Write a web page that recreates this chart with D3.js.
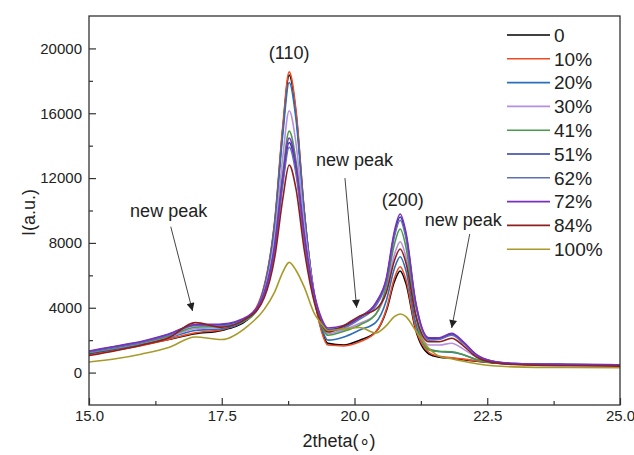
<!DOCTYPE html>
<html><head><meta charset="utf-8">
<script src="https://cdn.jsdelivr.net/npm/d3@7"></script>
<style>
body{margin:0;background:#fff}
text{font-family:"Liberation Sans",Arial,sans-serif;fill:#222}
</style>
</head><body>
<svg id="chart" width="634" height="455"></svg>
<script>
// ---------- data ----------
const twoTheta = [15, 15.5, 16, 16.5, 17, 17.5, 18, 18.3, 18.5, 18.65, 18.77, 18.9, 19.05, 19.25, 19.38, 19.5,
  19.8, 20.1, 20.4, 20.6, 20.75, 20.86, 20.97, 21.15, 21.4, 21.6, 21.83, 22.05, 22.3, 22.6, 23, 24, 25];

const seriesNames = ["0", "10%", "20%", "30%", "41%", "51%", "62%", "72%", "84%", "100%"];
const seriesColors = ["#000000", "#f04a24", "#2a6fb8", "#b88ee0", "#4a9a4a", "#2d3d9c", "#6070b2", "#7a2fc0", "#8e1f1f", "#a89a2a"];

const s0   = [1150,1400,1700,2050,2400,2600,3300, 5260,9320,15040,18350,15940,10075,4610,2630,1800, 1700,2000,2500,3810,5600,6270,5490,2650,1150,950,880,800,700,600,530,480,460];
const s10  = [1100,1380,1680,2050,2450,2650,3400, 5370,9460,15220,18550,16130,10125,4565,2540,1700, 1650,1900,2500,3910,5810,6530,5720,2760,1250,1000,920,830,720,620,540,480,460];
const s20  = [1200,1480,1780,2150,2600,2700,3350, 5240,9170,14700,17900,15570,9950,4700,2800,2000, 2200,2630,3100,4450,6410,7150,6280,3090,1450,1300,1250,1100,800,620,540,490,470];
const s30  = [1250,1530,1830,2200,2700,2800,3350, 5010,8470,13330,16150,14100,9275,4740,3090,2400, 2650,3040,3600,5050,7250,8075,7120,3610,1700,1700,1810,1450,950,680,560,500,480];
const s41  = [1250,1550,1850,2250,2800,2850,3300, 4810,7940,12350,14900,13040,8600,4440,2930,2300, 2550,2940,3600,5350,7900,8860,7730,3600,1400,1300,1290,1100,800,620,540,490,470];
const s51  = [1300,1600,1900,2350,2950,2950,3450, 4850,7750,11840,14200,12480,8425,4610,3230,2650, 2850,3400,4250,5730,8540,9600,8470,4320,2100,2100,2380,1850,1080,700,560,500,480];
const s62  = [1280,1580,1880,2300,2900,2900,3400, 4770,7600,11590,13900,12220,8225,4480,3120,2550, 2750,3300,4100,5620,8360,9400,8290,4220,2000,2050,2300,1800,1050,690,560,500,480];
const s72  = [1330,1630,1930,2380,2950,3000,3500, 4930,7890,12060,14475,12720,8610,4740,3340,2750, 2900,3450,4300,5820,8700,9780,8630,4400,2150,2150,2425,1900,1100,700,560,500,480];
const s84  = [1050,1350,1700,2150,3080,2800,3400, 4620,7160,10730,12800,11300,7650,4250,3020,2500, 2900,3500,3900,4940,6890,7625,6760,3580,1900,1900,2115,1650,950,620,500,420,400];
const s100 = [650,850,1150,1550,2200,2040,2900, 3900,5000,6200,6800,6300,5300,3600,3000,2600, 2700,2780,2450,2900,3450,3615,3450,2600,1500,1000,850,700,550,420,350,310,300];

const seriesValues = [s0, s10, s20, s30, s41, s51, s62, s72, s84, s100];

const xMajorTicks = [15, 17.5, 20, 22.5, 25];
const xMinorTicks = [16.25, 18.75, 21.25, 23.75];
const yMajorTicks = [0, 4000, 8000, 12000, 16000, 20000];
const yMinorTicks = [2000, 6000, 10000, 14000, 18000];

const xTitle = "2theta(\u2218)";
const yTitle = "I(a.u.)";

// annotations: [text, x, y] in data units; arrows: [x1, y1, x2, y2]
const labels = [["(110)", 18.77, 19350], ["(200)", 20.91, 10300], ["new peak", 16.5, 9620], ["new peak", 20.0, 12750], ["new peak", 22.05, 9050]];
const arrows = [[16.54, 9000, 16.95, 3800], [19.82, 12000, 20.04, 4000], [22.17, 8550, 21.83, 2750]];

// ---------- layout ----------
const svg = d3.select("#chart");
const L = 89, R = 620, T = 16, B = 405;
const x = d3.scaleLinear().domain([15, 25]).range([L, R]);
const y = d3.scaleLinear().domain([-2000, 22000]).range([B, T]);

const defs = svg.append("defs");
defs.append("clipPath").attr("id", "clip").append("rect")
  .attr("x", L).attr("y", T).attr("width", R - L).attr("height", B - T);
defs.append("marker").attr("id", "arrowhead").attr("viewBox", "0 0 10 10")
  .attr("refX", 10).attr("refY", 5).attr("markerWidth", 10).attr("markerHeight", 8)
  .attr("markerUnits", "userSpaceOnUse").attr("orient", "auto")
  .append("path").attr("d", "M0,0 L10,5 L0,10 Z").attr("fill", "#222");

// lines
const line = d3.line().x((d, i) => x(twoTheta[i])).y(d => y(d)).curve(d3.curveMonotoneX);
const g = svg.append("g").attr("clip-path", "url(#clip)");
seriesValues.forEach((vals, k) => {
  g.append("path").datum(vals).attr("d", line)
    .attr("fill", "none").attr("stroke", seriesColors[k]).attr("stroke-width", 1.6)
    .attr("stroke-linejoin", "round");
});

// axes
const axisColor = "#333";
const gx = svg.append("g").attr("transform", `translate(0,${B})`)
  .call(d3.axisBottom(x).tickValues(xMajorTicks).tickSizeInner(-7).tickSizeOuter(0).tickPadding(5).tickFormat(d3.format(".1f")));
const gxm = svg.append("g").attr("transform", `translate(0,${B})`)
  .call(d3.axisBottom(x).tickValues(xMinorTicks).tickSizeInner(-4).tickSizeOuter(0).tickFormat(""));
const gy = svg.append("g").attr("transform", `translate(${L},0)`)
  .call(d3.axisLeft(y).tickValues(yMajorTicks).tickSizeInner(-7).tickSizeOuter(0).tickPadding(7).tickFormat(d3.format("d")));
const gym = svg.append("g").attr("transform", `translate(${L},0)`)
  .call(d3.axisLeft(y).tickValues(yMinorTicks).tickSizeInner(-4).tickSizeOuter(0).tickFormat(""));
[gx, gxm, gy, gym].forEach(a => {
  a.select(".domain").remove();
  a.selectAll("line").attr("stroke", axisColor).attr("stroke-width", 1.2);
  a.selectAll("text").attr("font-size", 15).attr("fill", "#222").style("font-family", "'Liberation Sans', Arial, sans-serif");
});

// frame
svg.append("rect").attr("x", L).attr("y", T).attr("width", R - L).attr("height", B - T)
  .attr("fill", "none").attr("stroke", axisColor).attr("stroke-width", 1.3);

// titles
svg.append("text").attr("x", 339).attr("y", 447).attr("text-anchor", "middle")
  .attr("font-size", 18).text(xTitle);
svg.append("text").attr("transform", `translate(35,${(T + B) / 2 + 2}) rotate(-90)`)
  .attr("text-anchor", "middle").attr("font-size", 18).text(yTitle);

// annotations
labels.forEach(([t, lx, ly]) => {
  svg.append("text").attr("x", x(lx)).attr("y", y(ly)).attr("text-anchor", "middle")
    .attr("font-size", 18).text(t);
});
arrows.forEach(([x1, y1, x2, y2]) => {
  svg.append("line").attr("x1", x(x1)).attr("y1", y(y1)).attr("x2", x(x2)).attr("y2", y(y2))
    .attr("stroke", "#444").attr("stroke-width", 1).attr("marker-end", "url(#arrowhead)");
});

// legend
const lg = svg.append("g");
seriesNames.forEach((n, k) => {
  const yy = 35 + k * 23.8;
  lg.append("line").attr("x1", 507).attr("x2", 550).attr("y1", yy).attr("y2", yy)
    .attr("stroke", seriesColors[k]).attr("stroke-width", 1.6);
  lg.append("text").attr("x", 554).attr("y", yy).attr("dy", "0.36em")
    .attr("font-size", 19).text(n);
});
</script>
</body></html>
